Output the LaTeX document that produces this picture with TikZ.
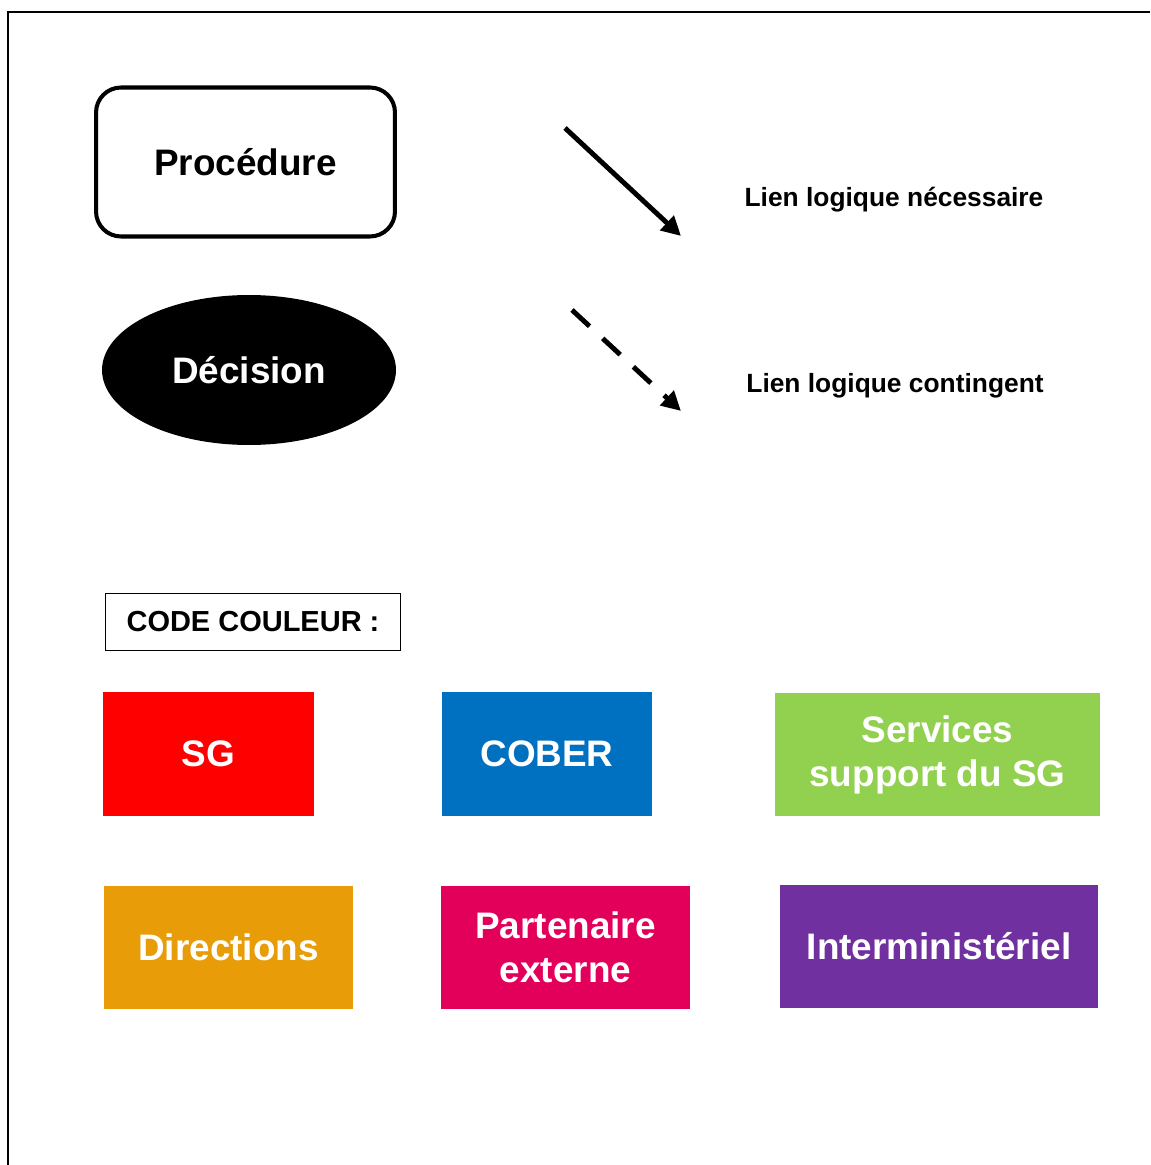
\documentclass[tikz,border=0pt]{standalone}
\usepackage{fontspec}
\setmainfont{Liberation Sans}
\usetikzlibrary{arrows.meta,shapes.geometric}
\definecolor{sgred}{HTML}{FF0000}
\definecolor{coberblue}{HTML}{0070C0}
\definecolor{supportgreen}{HTML}{92D050}
\definecolor{dirorange}{HTML}{E89C07}
\definecolor{partpink}{HTML}{E3005A}
\definecolor{intervio}{HTML}{7030A0}
\begin{document}
\begin{tikzpicture}[x=0.02cm,y=-0.02cm,
    big/.style={font=\bfseries\fontsize{21}{25}\selectfont,align=center},
    colbox/.style={big,text=white,inner sep=0pt},
    legtext/.style={font=\bfseries\fontsize{15}{18}\selectfont,inner sep=0pt},
    linkarrow/.style={line width=2.8pt,-{Triangle[length=11pt,width=11pt]}}]
  \useasboundingbox (0,0) rectangle (1150,1165);
  % cadre
  \draw[line width=1.2pt] (1150,12) -- (8,12) -- (8,1165);
  % formes
  \node[big,draw,line width=2.3pt,rounded corners=0.5cm,
        minimum width=5.98cm,minimum height=2.98cm] (proc) at (245.5,162) {Procédure};
  \node[big,ellipse,fill=black,text=white,
        minimum width=5.88cm,minimum height=3cm] (dec) at (249,370) {Décision};
  % liens
  \coordinate (n1) at (565,128);
  \coordinate (n2) at (681,236);
  \coordinate (c1) at (572,310);
  \coordinate (c2) at (681,411);
  \draw[linkarrow] (n1) -- (n2);
  \draw[linkarrow,dash pattern=on 13.6pt off 10.2pt] (c1) -- (c2);
  \node[legtext] (nec) at (894,200) {Lien logique nécessaire};
  \node[legtext] (cont) at (895,386) {Lien logique contingent};
  % code couleur
  \node[draw,line width=0.8pt,font=\bfseries\fontsize{16.5}{20}\selectfont,
        minimum width=5.9cm,minimum height=1.14cm] (code) at (253,622) {CODE COULEUR :};
  \node[colbox,fill=sgred,minimum width=4.22cm,minimum height=2.48cm] (sg) at (208.5,754) {SG};
  \node[colbox,fill=coberblue,minimum width=4.2cm,minimum height=2.48cm] (cober) at (547,754) {COBER};
  \node[colbox,fill=supportgreen,minimum width=6.5cm,minimum height=2.46cm] (supp) at (937.5,754.5) {Services\\support du SG};
  \node[colbox,fill=dirorange,minimum width=4.98cm,minimum height=2.46cm] (dir) at (228.5,947.5) {Directions};
  \node[colbox,fill=partpink,minimum width=4.98cm,minimum height=2.46cm] (part) at (565.5,947.5) {Partenaire\\externe};
  \node[colbox,fill=intervio,minimum width=6.36cm,minimum height=2.46cm] (inter) at (939,946.5) {Interministériel};
\end{tikzpicture}
\end{document}
